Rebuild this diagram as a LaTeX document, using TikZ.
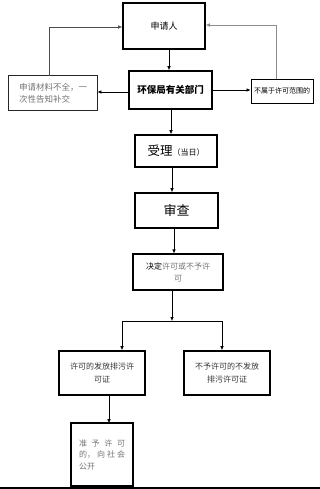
\documentclass[tikz,border=0pt]{standalone}
\usepackage{fontspec}
\newfontfamily\cjk{Noto Sans CJK SC}
\usetikzlibrary{arrows.meta}
\begin{document}
\begin{tikzpicture}[x=1pt,y=-1pt,
  box/.style={draw=black, line width=1.6pt, inner sep=0pt, align=center, font=\cjk},
  thinbox/.style={draw=black, line width=0.8pt, inner sep=0pt, align=center, font=\cjk},
  arr/.style={-{Latex[length=4pt,width=3.5pt]}, line width=0.6pt},
  fbl/.style={arr, draw=black!70},
  fbr/.style={arr, draw=black!45},
  plain/.style={line width=0.6pt}]
\useasboundingbox (0,0) rectangle (320,489);
% nodes
\node[box, minimum width=82pt, minimum height=46pt, font=\cjk\fontsize{9}{11}\selectfont] (app) at (164,26) {申请人};
\node[box, minimum width=83pt, minimum height=38pt, font=\cjk\bfseries\fontsize{9.5}{11}\selectfont] (hb) at (170.5,90) {环保局有关部门};
\node[thinbox, draw=none, minimum width=88pt, minimum height=34pt, font=\cjk\fontsize{8.5}{12}\selectfont] (lt) at (53,93) {{\color{black!55}\makebox[8em][l]{申请材料不全，一}}\\{\color{black!55}\makebox[8em][l]{次性告知补交}}};
\node[thinbox, minimum width=62pt, minimum height=24pt, font=\cjk\fontsize{7}{9}\selectfont] (rt) at (282,91) {不属于许可范围的};
\node[box, minimum width=82pt, minimum height=32pt, font=\cjk\fontsize{12.5}{14}\selectfont] (sl) at (176,151) {受理{\fontsize{8}{9}\selectfont（当日）}};
\node[box, minimum width=83pt, minimum height=35pt, font=\cjk\fontsize{13}{15}\selectfont] (sc) at (176.5,210.5) {审查};
\node[thinbox, line width=1.1pt, minimum width=90pt, minimum height=36pt, font=\cjk\fontsize{8}{12}\selectfont] (jd) at (178,272) {决定{\color{black!55}许可或不予许}\\{\color{black!55}可}};
\node[box, minimum width=86pt, minimum height=44pt, font=\cjk\fontsize{8}{13}\selectfont] (xk) at (102,373) {{\color{black!80}许可的发放排污许}\\{\color{black!80}可证}};
\node[box, minimum width=86pt, minimum height=44pt, font=\cjk\fontsize{8}{13}\selectfont] (bx) at (227,373) {{\color{black!80}不予许可的不发放}\\{\color{black!80}排污许可证}};
\node[box, draw=none, minimum width=60pt, minimum height=61pt, font=\cjk\fontsize{8}{11.5}\selectfont] (zy) at (102,454.5) {{\color{black!55}\makebox[46pt][s]{准\hfill 予\hfill 许\hfill 可}}\\{\color{black!55}\makebox[46pt][s]{的，\hfill 向\hfill 社\hfill 会}}\\{\color{black!55}\makebox[46pt][l]{公开}}};
% borders of the grey-text boxes
\draw[draw=black!85, line width=1pt] (lt.south west) rectangle (lt.north east);
\draw[draw=black, line width=1.6pt] (zy.south west) rectangle (zy.north east);
% coordinates for the split
\coordinate (sp) at (172,321);
\coordinate (spl) at (122,321);
\coordinate (spr) at (222,321);
% connectors
\draw[arr] ([xshift=5pt]app.south) -- ([xshift=-1.5pt]hb.north);
\draw[arr] ([yshift=-2pt]hb.west) -- ([yshift=1pt]lt.east);
\draw[arr] (hb.east) -- ([yshift=1pt]rt.west);
\draw[fbl] ([xshift=-4pt]lt.north) |- ([yshift=-1pt]app.west);
\draw[fbr] ([xshift=-6pt]rt.north) |- ([yshift=1pt]app.east);
\draw[arr] ([xshift=0.5pt]hb.south) -- ([xshift=-5pt]sl.north);
\draw[arr] ([xshift=-4pt]sl.south) -- ([xshift=-4.5pt]sc.north);
\draw[arr] ([xshift=-2.5pt]sc.south) -- ([xshift=-4pt]jd.north);
\draw[arr] ([xshift=-6pt]jd.south) -- (sp);
\draw[plain] (spl) -- (spr);
\draw[arr] (spl) -- (spl |- xk.north);
\draw[arr] (spr) -- (spr |- bx.north);
\draw[arr] ([xshift=7pt]xk.south) -- ([xshift=7pt]zy.north);
% bottom rule
\draw[line width=1.2pt] (0,488) -- (320,488);
\end{tikzpicture}
\end{document}
